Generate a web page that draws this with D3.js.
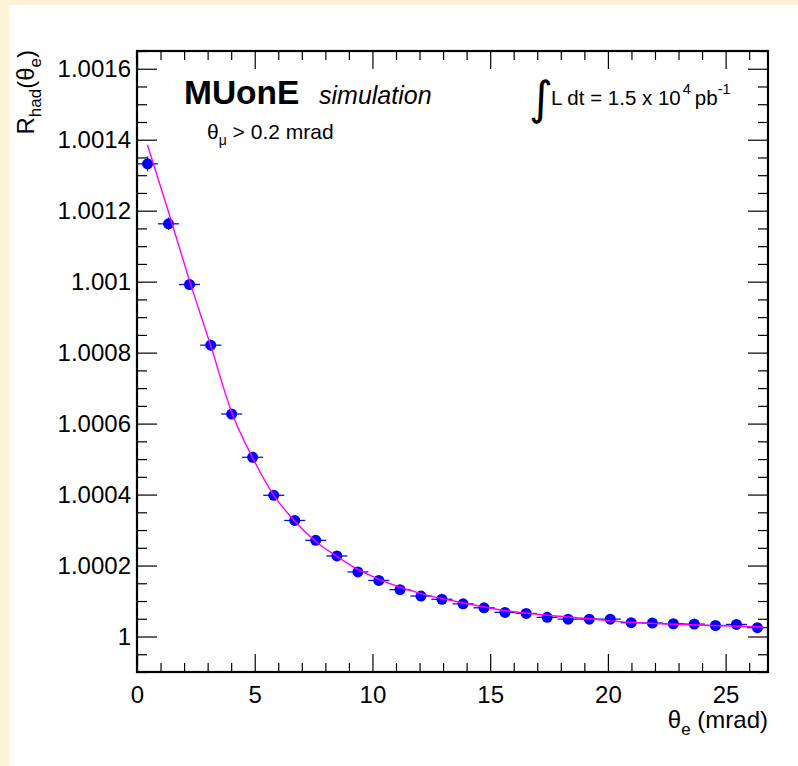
<!DOCTYPE html>
<html>
<head>
<meta charset="utf-8">
<script src="https://cdn.jsdelivr.net/npm/d3@7/dist/d3.min.js"></script>
<style>
  html, body { margin: 0; padding: 0; background: #fdf3d7; }
  svg { display: block; }
  text { font-family: "Liberation Sans", Arial, Helvetica, sans-serif; fill: #000; }
</style>
</head>
<body>
<div id="chart"></div>
<script>
// bin centres (mrad) and half width
const thetaE = [0.45, 1.34, 2.23, 3.13, 4.02, 4.91, 5.81, 6.70, 7.59, 8.49,
                9.38, 10.27, 11.17, 12.06, 12.95, 13.85, 14.74, 15.63, 16.53, 17.42,
                18.31, 19.21, 20.10, 20.99, 21.89, 22.78, 23.67, 24.57, 25.46, 26.35];
const binHalf = 0.447;

// R_had values
const rHad = [1.001332, 1.001163, 1.000992, 1.000821, 1.000627, 1.000505, 1.000398, 1.000327, 1.000271, 1.000227,
              1.000182, 1.000158, 1.000132, 1.000114, 1.000105, 1.000092, 1.000081, 1.000068, 1.000065, 1.000054,
              1.000049, 1.000049, 1.000049, 1.000039, 1.000038, 1.000036, 1.000035, 1.000031, 1.000034, 1.000025];
const rErr = [0.000021, 0.000018, 0.000016, 0.000015, 0.000014, 0.000013, 0.000012, 0.000012, 0.000011, 0.000011,
              0.000010, 0.000010, 0.000010, 0.000009, 0.000009, 0.000009, 0.000009, 0.000008, 0.000008, 0.000008,
              0.000008, 0.000008, 0.000008, 0.000008, 0.000007, 0.000007, 0.000007, 0.000007, 0.000007, 0.000007];

// fit curve sampled from the plot
const fitX = [0.44, 1.36, 2.22, 3.12, 4.02, 4.90, 5.79, 6.70, 7.59, 8.49, 9.38, 10.28, 12.07, 13.85, 15.64, 17.44, 19.22, 20.95, 23.5, 26.6];
const fitY = [1.001386, 1.001192, 1.001005, 1.000822, 1.000632, 1.000505, 1.000400, 1.000325, 1.000268, 1.000226,
              1.000189, 1.000161, 1.000121, 1.000095, 1.000073, 1.000060, 1.000050, 1.000040, 1.000033, 1.000027];

const yMajor = [1, 1.0002, 1.0004, 1.0006, 1.0008, 1.001, 1.0012, 1.0014, 1.0016];
const xMajor = [0, 5, 10, 15, 20, 25];

const W = 798, H = 766;
const plot = {left: 137, top: 51, right: 768, bottom: 672};

const svg = d3.select("#chart").append("svg")
    .attr("width", W)
    .attr("height", H);

svg.append("rect").attr("x", 9).attr("y", 5).attr("width", W - 9).attr("height", H - 5).attr("fill", "#fff");

const x = d3.scaleLinear().domain([0, 26.8]).range([plot.left, plot.right]);
const y = d3.scaleLinear().domain([0.9999, 1.00165]).range([plot.bottom, plot.top]);

const xMinor = d3.range(0, 27).filter(v => v % 5 !== 0);
const yMinor = d3.range(0, 36).map(i => +(0.9999 + i * 0.00005).toFixed(5))
                 .filter(v => !yMajor.some(m => Math.abs(m - v) < 1e-7));

const fmtY = v => String(+v.toFixed(4));

function styleAxis(g) {
    g.select(".domain").remove();
    g.selectAll(".tick line").attr("stroke", "#000").attr("stroke-width", 1.2);
    g.selectAll(".tick text").style("font-size", "24px");
}

// bottom axis
svg.append("g").attr("transform", `translate(0,${plot.bottom})`)
    .call(d3.axisBottom(x).tickValues(xMajor).tickSize(-18).tickPadding(9).tickFormat(d3.format("d")))
    .call(styleAxis)
    .call(g => g.selectAll(".tick text").attr("dy", "0.9em"));
svg.append("g").attr("transform", `translate(0,${plot.bottom})`)
    .call(d3.axisBottom(x).tickValues(xMinor).tickSize(-9).tickFormat(""))
    .call(styleAxis);
// top axis
svg.append("g").attr("transform", `translate(0,${plot.top})`)
    .call(d3.axisTop(x).tickValues(xMajor).tickSize(-18).tickFormat(""))
    .call(styleAxis);
svg.append("g").attr("transform", `translate(0,${plot.top})`)
    .call(d3.axisTop(x).tickValues(xMinor).tickSize(-9).tickFormat(""))
    .call(styleAxis);
// left axis
svg.append("g").attr("transform", `translate(${plot.left},0)`)
    .call(d3.axisLeft(y).tickValues(yMajor).tickSize(-20).tickPadding(6).tickFormat(fmtY))
    .call(styleAxis);
svg.append("g").attr("transform", `translate(${plot.left},0)`)
    .call(d3.axisLeft(y).tickValues(yMinor).tickSize(-10).tickFormat(""))
    .call(styleAxis);
// right axis
svg.append("g").attr("transform", `translate(${plot.right},0)`)
    .call(d3.axisRight(y).tickValues(yMajor).tickSize(-20).tickFormat(""))
    .call(styleAxis);
svg.append("g").attr("transform", `translate(${plot.right},0)`)
    .call(d3.axisRight(y).tickValues(yMinor).tickSize(-10).tickFormat(""))
    .call(styleAxis);

// frame
svg.append("rect")
    .attr("x", plot.left).attr("y", plot.top)
    .attr("width", plot.right - plot.left).attr("height", plot.bottom - plot.top)
    .attr("fill", "none").attr("stroke", "#000").attr("stroke-width", 2.2);

svg.append("clipPath").attr("id", "clip")
  .append("rect").attr("x", plot.left).attr("y", plot.top)
    .attr("width", plot.right - plot.left).attr("height", plot.bottom - plot.top);

const pts = thetaE.map((t, i) => ({x: t, y: rHad[i], e: rErr[i]}));
const data = svg.append("g").attr("clip-path", "url(#clip)");

// error bars
data.selectAll(".xerr").data(pts).enter().append("line")
    .attr("x1", d => x(d.x - binHalf)).attr("x2", d => x(d.x + binHalf))
    .attr("y1", d => y(d.y)).attr("y2", d => y(d.y))
    .attr("stroke", "#1010d0").attr("stroke-width", 1.3);
data.selectAll(".yerr").data(pts).enter().append("line")
    .attr("x1", d => x(d.x)).attr("x2", d => x(d.x))
    .attr("y1", d => y(d.y - d.e)).attr("y2", d => y(d.y + d.e))
    .attr("stroke", "#1010d0").attr("stroke-width", 1.3);

// markers
data.selectAll(".pt").data(pts).enter().append("circle")
    .attr("cx", d => x(d.x)).attr("cy", d => y(d.y)).attr("r", 5.5)
    .attr("fill", "#0000ff");

// fit line
const line = d3.line().x(d => x(d[0])).y(d => y(d[1])).curve(d3.curveMonotoneX);
data.append("path")
    .datum(fitX.map((v, i) => [v, fitY[i]]))
    .attr("d", line)
    .attr("fill", "none").attr("stroke", "#ff00ff").attr("stroke-width", 1.4);

// axis titles
const xt = svg.append("text")
    .attr("x", plot.right).attr("y", 728)
    .attr("text-anchor", "end").style("font-size", "24px");
xt.append("tspan").text("θ");
xt.append("tspan").attr("dy", 7).style("font-size", "17px").text("e");
xt.append("tspan").attr("dy", -7).text(" (mrad)");

const yt = svg.append("text")
    .attr("transform", "translate(34,50) rotate(-90)")
    .attr("text-anchor", "end").style("font-size", "24px");
yt.append("tspan").text("R");
yt.append("tspan").attr("dy", 7).style("font-size", "17px").text("had");
yt.append("tspan").attr("dy", -7).text("(θ");
yt.append("tspan").attr("dy", 7).style("font-size", "17px").text("e");
yt.append("tspan").attr("dy", -7).text(")");

// labels
svg.append("text").attr("x", 184).attr("y", 104)
    .style("font-size", "33.5px").style("font-weight", "bold").text("MUonE");
svg.append("text").attr("x", 319).attr("y", 104)
    .style("font-size", "25px").style("font-style", "italic").text("simulation");

const cut = svg.append("text").attr("x", 207).attr("y", 139).style("font-size", "21px");
cut.append("tspan").text("θ");
cut.append("tspan").attr("dy", 6).style("font-size", "14px").text("μ");
cut.append("tspan").attr("dy", -6).text(" > 0.2 mrad");

svg.append("text").attr("x", 529).attr("y", 114)
    .style("font-size", "46px").style("font-family", "DejaVu Sans").text("∫");
const lum = svg.append("text").attr("x", 551).attr("y", 105).style("font-size", "20.5px");
lum.append("tspan").text("L dt = 1.5 x 10");
lum.append("tspan").attr("dy", -11).attr("dx", 2).style("font-size", "14.5px").text("4");
lum.append("tspan").attr("dy", 11).attr("dx", 4).text("pb");
lum.append("tspan").attr("dy", -11).style("font-size", "14.5px").text("-1");
</script>
</body>
</html>
